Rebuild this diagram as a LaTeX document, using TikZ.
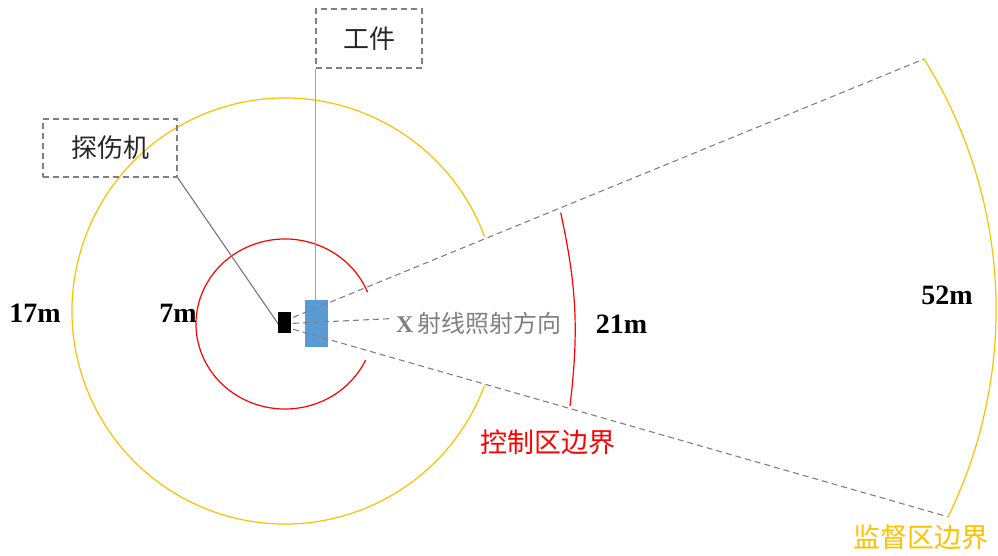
\documentclass[tikz,border=0pt]{standalone}
\usepackage{fontspec}
\setmainfont{Liberation Serif}
\newfontfamily\cjk{Noto Sans CJK SC}
\usetikzlibrary{calc}
\definecolor{orz}{HTML}{FFC000}
\definecolor{redz}{HTML}{FF0000}
\definecolor{bluez}{HTML}{5B9BD5}
\definecolor{grayz}{HTML}{808080}
\definecolor{lgrayz}{HTML}{A0A0A0}
\definecolor{dgrayz}{HTML}{767676}
\definecolor{txtz}{HTML}{262626}
\begin{document}
\begin{tikzpicture}[x=1pt,y=1pt,
  zonearc/.style={line width=1.2pt},
  ray/.style={draw=grayz, line width=1.1pt, dash pattern=on 6pt off 4pt},
  callout/.style={draw=grayz, line width=1.1pt, dash pattern=on 6pt off 4pt, inner sep=0pt, text=txtz, font=\cjk\fontsize{26}{30}\selectfont},
  dist/.style={font=\bfseries\fontsize{28}{32}\selectfont, inner sep=0pt},
  zonelabel/.style={font=\cjk\fontsize{27}{31}\selectfont, inner sep=0pt}]
\useasboundingbox (0,0) rectangle (998,555);

% zone boundaries
\draw[zonearc, orz] (285,244) ++(20.5:213pt) arc[start angle=20.5, end angle=339.5, radius=213pt];
\draw[zonearc, redz] (285,231) ++(22:89pt and 85pt) arc[start angle=22, end angle=335, x radius=89pt, y radius=85pt];

% callout boxes
\node[callout, minimum width=106pt, minimum height=59pt] (wj) at (369,516.5) {工件};
\node[callout, minimum width=134pt, minimum height=58pt] (tsj) at (110,407) {探伤机};

% workpiece
\node[fill=bluez, minimum width=23pt, minimum height=47pt, inner sep=0pt] (wp) at (316.5,231.5) {};
\draw[lgrayz, line width=1.1pt] (wj.south west) -- (wj.south west |- wp.north);
\draw[dgrayz, line width=1.1pt] (tsj.south east) -- (279,230);

% source
\node[fill=black, minimum width=13pt, minimum height=21pt, inner sep=0pt] (src) at (284.5,232.5) {};

% direction label
\node[anchor=west, inner sep=0pt, text=grayz, font=\fontsize{24}{28}\selectfont] (xl) at (396,232) {\textbf{X}\,{\cjk 射线照射方向}};

% ray ends
\coordinate (u52) at (924,496);
\coordinate (l52) at (947.7,38.3);

\draw[ray] ($(src.east)+(2,5.2)$) -- (u52);
\draw[ray] ($(src.east)+(2,-0.8)$) -- ($(xl.west)+(-3,4.5)$);
\draw[ray] ($(src.east)+(2,-6.8)$) -- (l52);

% 21m arc and 52m arc
\coordinate (c21a) at (560.7,342.3);
\coordinate (c21b) at (570,149);
\draw[zonearc, redz] (c21a) to[bend left=9.5] (c21b);
\draw[zonearc, orz] (u52) arc[start angle=32.1, end angle=-26.1, radius=471.5pt];

% distance labels
\node[dist] (d17) at (35,242) {17m};
\node[dist] (d7) at (178,242) {7m};
\node[dist] (d21) at (621.5,231) {21m};
\node[dist] (d52) at (947,260) {52m};

% zone labels
\node[zonelabel, text=redz] (ctl) at (548,113) {控制区边界};
\node[zonelabel, text=orz] (sup) at (921,18) {监督区边界};
\end{tikzpicture}
\end{document}
